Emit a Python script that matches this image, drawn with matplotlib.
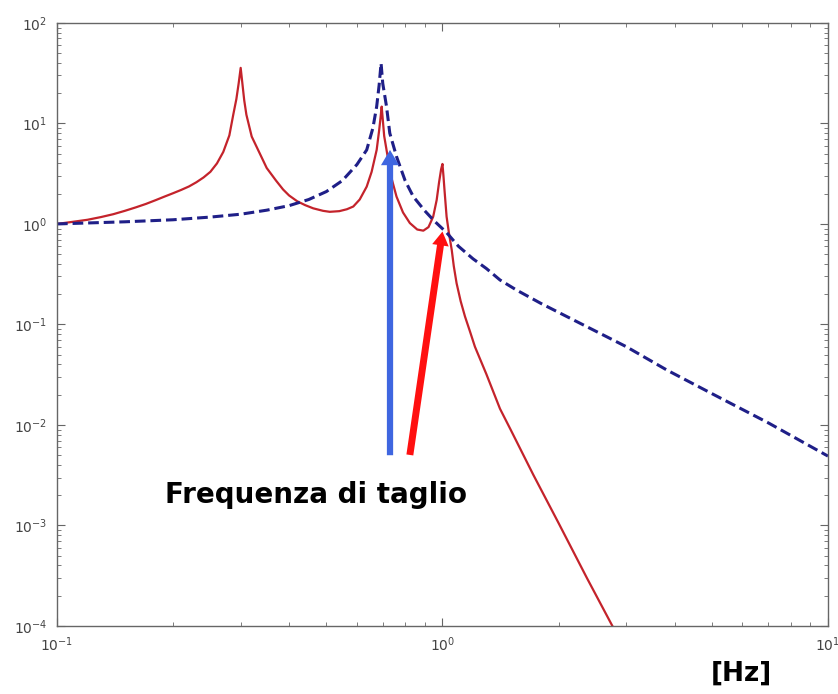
import numpy as np
import matplotlib
matplotlib.use('Agg')
import matplotlib.pyplot as plt
from matplotlib.ticker import LogLocator, NullFormatter

# red curve (3-dof response)
red_f = [0.1, 0.11, 0.12, 0.13, 0.14, 0.15, 0.16, 0.17, 0.18, 0.19,
         0.20, 0.21, 0.22, 0.23, 0.24, 0.25, 0.26, 0.27, 0.28, 0.2866,
         0.292, 0.296, 0.2996, 0.303, 0.306, 0.31, 0.32, 0.336, 0.35, 0.37,
         0.386, 0.40, 0.42, 0.44, 0.462, 0.49, 0.51, 0.54, 0.565, 0.587,
         0.61, 0.636, 0.655, 0.675, 0.685, 0.691, 0.6955, 0.70, 0.706, 0.716,
         0.735, 0.76, 0.79, 0.823, 0.86, 0.892, 0.92, 0.946, 0.966, 0.98,
         0.992, 1.0, 1.006, 1.012, 1.025, 1.04, 1.057, 1.07, 1.088, 1.115,
         1.144, 1.18, 1.214, 1.3, 1.41, 1.5, 1.72, 2.0, 2.37, 2.8]
red_a = [1.0, 1.05, 1.1, 1.17, 1.25, 1.35, 1.46, 1.58, 1.72, 1.87,
         2.02, 2.18, 2.36, 2.6, 2.9, 3.3, 4.0, 5.2, 7.6, 12.2,
         17.5, 25.0, 35.7, 24.0, 17.0, 12.2, 7.4, 5.0, 3.6, 2.7,
         2.2, 1.92, 1.68, 1.54, 1.43, 1.35, 1.32, 1.34, 1.4, 1.49,
         1.75, 2.35, 3.3, 5.45, 8.5, 11.5, 14.7, 11.0, 7.5, 5.45,
         3.0, 1.87, 1.3, 1.02, 0.88, 0.857, 0.93, 1.18, 1.73, 2.6,
         3.5, 3.95, 3.0, 2.2, 1.18, 0.8, 0.55, 0.38, 0.257, 0.17,
         0.12, 0.084, 0.060, 0.032, 0.0145, 0.0091, 0.0032, 0.00106, 3.0e-4, 9e-5]

# blue dashed curve (1-dof response)
blue_f = [0.1, 0.15, 0.2, 0.25, 0.3, 0.35, 0.4, 0.45, 0.5, 0.55,
          0.6, 0.636, 0.66, 0.675, 0.685, 0.693, 0.70, 0.716, 0.73, 0.76,
          0.8, 0.84, 0.9, 0.95, 1.025, 1.1, 1.2, 1.3, 1.41, 1.556,
          1.8, 2.1, 2.56, 3.0, 3.82, 5.0, 7.0, 10.0]
blue_a = [1.0, 1.05, 1.1, 1.17, 1.25, 1.37, 1.52, 1.75, 2.1, 2.7,
          3.9, 5.45, 9.0, 14.7, 24.0, 39.7, 25.0, 14.7, 8.0, 4.68,
          2.7, 1.87, 1.35, 1.08, 0.82, 0.6, 0.45, 0.36, 0.277, 0.22,
          0.162, 0.12, 0.0817, 0.06, 0.0352, 0.0205, 0.0105, 0.0049]

# arrows: (start, end)
blue_arrow = ((0.731, 0.005), (0.731, 5.45))
red_arrow = ((0.823, 0.00503), (1.0, 0.84))

fig = plt.figure(figsize=(8.38, 6.94), dpi=100)
ax = fig.add_axes([0.068, 0.098, 0.920, 0.869])

ax.loglog(red_f, red_a, color='#c4232b', lw=1.6)
ax.loglog(blue_f, blue_a, color='#1f1f88', lw=2.2, dashes=(3.5, 1.6))

ax.annotate('', xy=blue_arrow[1], xytext=blue_arrow[0],
            arrowprops=dict(width=4.5, headwidth=13, headlength=11, shrink=0,
                            color='#3f66e0', lw=0))
ax.annotate('', xy=red_arrow[1], xytext=red_arrow[0],
            arrowprops=dict(width=5, headwidth=12, headlength=10, shrink=0,
                            color='#ff1010', lw=0))

ax.set_xlim(0.1, 10)
ax.set_ylim(1e-4, 1e2)

ax.yaxis.set_major_locator(LogLocator(base=10, numticks=10))
ax.yaxis.set_minor_locator(LogLocator(base=10, subs=np.arange(2, 10), numticks=10))
ax.yaxis.set_minor_formatter(NullFormatter())
ax.xaxis.set_minor_formatter(NullFormatter())

for s in ax.spines.values():
    s.set_color('#666666')
    s.set_linewidth(1.0)
ax.tick_params(which='both', direction='in', top=True, right=True,
               colors='#666666', labelcolor='#444444', labelsize=10)
ax.tick_params(which='major', length=6, pad=7)
ax.tick_params(which='minor', length=3)

ax.text(0.1905, 0.002, 'Frequenza di taglio', fontsize=20, fontweight='bold',
        ha='left', va='center', color='black')
fig.text(0.885, 0.030, '[Hz]', fontsize=19, fontweight='bold',
         ha='center', va='center', color='black')

fig.savefig('out.png', dpi=100)
